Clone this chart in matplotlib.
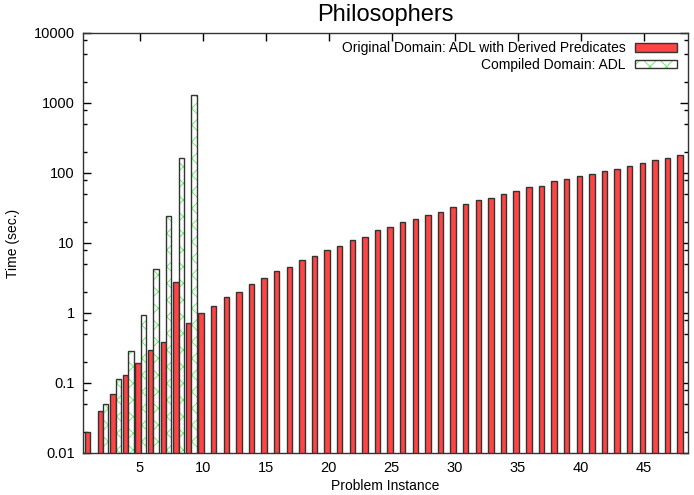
import numpy as np
import matplotlib.pyplot as plt
from matplotlib.patches import Patch
from matplotlib.legend_handler import HandlerTuple
from matplotlib.ticker import LogLocator, FixedLocator, NullFormatter

plt.rcParams['font.family'] = ['Liberation Sans', 'DejaVu Sans']
plt.rcParams['hatch.linewidth'] = 0.6

# data
instances = np.arange(1, 49)
original = [0.02, 0.04, 0.07, 0.13, 0.19, 0.30, 0.39, 2.8, 0.72, 1.0,
            1.25, 1.68, 2.0, 2.62, 3.13, 3.94, 4.49, 5.78, 6.59, 7.94,
            9.16, 11.0, 12.2, 15.2, 16.8, 19.9, 22.3, 25.4, 27.7, 32.7,
            35.7, 41.1, 44.4, 50.7, 54.7, 62.4, 65.9, 76.0, 82.1, 90.6,
            96.8, 107.8, 115.3, 127.3, 137.5, 151.8, 162.2, 178.8]
compiled_inst = np.arange(2, 10)
compiled = [0.05, 0.113, 0.286, 0.93, 4.3, 24.3, 164.0, 1288.0]

red = '#ff4444'
green = '#55ee55'
w = 0.43
base = 1e-4

fig = plt.figure(figsize=(6.94, 4.95), dpi=100)
ax = fig.add_axes([83 / 694, 42 / 495, 605 / 694, 420 / 495])

ax.bar(instances - 0.13, np.array(original) - base, width=w, bottom=base,
       color=red, edgecolor='#333333', linewidth=1.0, zorder=2)
# hatch layer in green, then a black outline on top
ax.bar(compiled_inst + 0.30, np.array(compiled) - base, width=w, bottom=base,
       color='white', edgecolor=green, hatch='xx', linewidth=0, zorder=2)
ax.bar(compiled_inst + 0.30, np.array(compiled) - base, width=w, bottom=base,
       color='none', edgecolor='#333333', linewidth=1.0, zorder=3)

ax.set_yscale('log')
ax.set_ylim(0.01, 10000)
ax.set_xlim(0.5, 48.5)

ax.xaxis.set_major_locator(FixedLocator(range(5, 50, 5)))
ax.yaxis.set_minor_locator(LogLocator(base=10, subs=[2, 5, 8], numticks=20))
ax.yaxis.set_minor_formatter(NullFormatter())
ax.set_yticks([0.01, 0.1, 1, 10, 100, 1000, 10000])
ax.set_yticklabels(['0.01', '0.1', '1', '10', '100', '1000', '10000'])

ax.tick_params(axis='both', which='major', direction='in', length=6,
               width=1, top=True, right=True, labelsize=10.5, pad=6)
ax.tick_params(axis='both', which='minor', direction='in', length=3,
               width=1, top=True, right=True)
for s in ax.spines.values():
    s.set_linewidth(1.0)
    s.set_color('#333333')

ax.set_title('Philosophers', fontsize=17, pad=9)
ax.set_xlabel('Problem Instance', fontsize=10, labelpad=3)
ax.set_ylabel('Time (sec.)', fontsize=10, labelpad=10)

h1 = Patch(facecolor=red, edgecolor='#333333', linewidth=1.0)
h2 = (Patch(facecolor='white', edgecolor=green, hatch='xx', linewidth=0),
      Patch(facecolor='none', edgecolor='#333333', linewidth=1.0))
ax.legend([h1, h2], ['Original Domain: ADL with Derived Predicates',
                     'Compiled Domain: ADL'],
          handler_map={tuple: HandlerTuple(ndivide=1, pad=0)},
          loc='upper right', frameon=False, markerfirst=False,
          fontsize=10, handlelength=3.0, handleheight=0.55,
          labelspacing=0.2, handletextpad=0.7, borderaxespad=0.2,
          bbox_to_anchor=(0.995, 1.0))

fig.savefig('out.png', dpi=100)
